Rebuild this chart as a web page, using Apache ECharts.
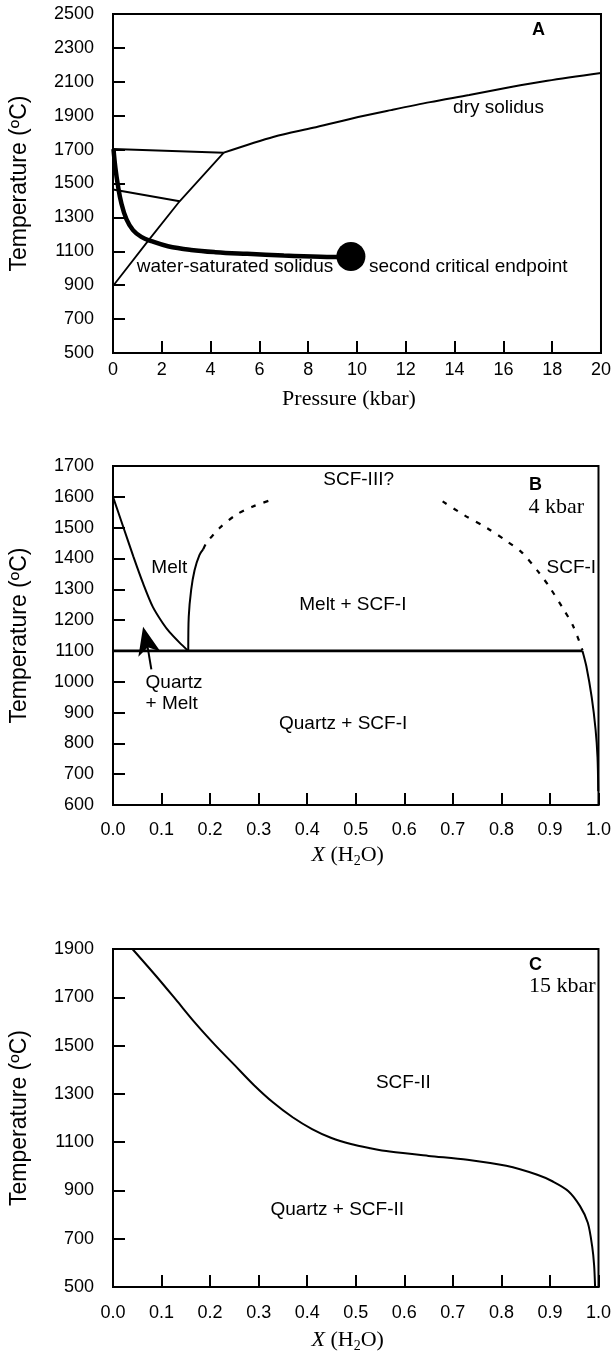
<!DOCTYPE html>
<html>
<head>
<meta charset="utf-8">
<script src="https://cdn.jsdelivr.net/npm/echarts@6/dist/echarts.min.js"></script>
<style>
  html, body { margin: 0; padding: 0; background: #fff; }
  #chart { width: 614px; height: 1360px; }
</style>
</head>
<body>
<div id="chart"></div>
<script>
// ---- panel A: pressure (kbar) vs temperature
const xTicksA = [0, 2, 4, 6, 8, 10, 12, 14, 16, 18, 20];
const yTicksA = [500, 700, 900, 1100, 1300, 1500, 1700, 1900, 2100, 2300, 2500];
const drySolidus = [[4.54, 1682], [6.6, 1776], [8.2, 1829], [9.8, 1884], [11.4, 1933], [13.0, 1980], [14.6, 2022], [16.2, 2066], [17.8, 2106], [20, 2152]];
const upperTie = [[0, 1704], [4.54, 1682]];
const lowerTie = [[0, 1464], [2.73, 1395]];
const diagonal = [[0, 895], [1.43, 1160], [2.73, 1395], [4.54, 1682]];
const wetSolidus = [[0.02, 1703], [0.1, 1590], [0.2, 1490], [0.34, 1385], [0.55, 1290], [0.82, 1225], [1.16, 1185], [1.57, 1160], [2.25, 1130], [3.2, 1108], [4.2, 1095], [5.5, 1085], [7, 1075], [8.5, 1068], [9.75, 1066]];
const endpoint = [[9.75, 1070]];
const notesA = [
  [17.15, 2405, 'A', 'tag'],
  [15.8, 1945, 'dry solidus', 'note'],
  [5.0, 1009, 'water-saturated solidus', 'note'],
  [14.56, 1009, 'second critical endpoint', 'note']
];

// ---- panel B: 4 kbar
const xTicksBC = [0, 0.1, 0.2, 0.3, 0.4, 0.5, 0.6, 0.7, 0.8, 0.9, 1.0];
const yTicksB = [600, 700, 800, 900, 1000, 1100, 1200, 1300, 1400, 1500, 1600, 1700];
const liquidus = [[0, 1600], [0.021, 1503], [0.042, 1406], [0.062, 1319], [0.082, 1243], [0.103, 1189], [0.117, 1160], [0.137, 1127], [0.155, 1100]];
const meltLimb = [[0.155, 1100], [0.156, 1211], [0.161, 1298], [0.168, 1362], [0.178, 1411], [0.186, 1430]];
const meltLimbDash = [[0.186, 1430], [0.192, 1449], [0.219, 1498], [0.253, 1541], [0.287, 1568], [0.328, 1591]];
const fluidLimbDash = [[0.679, 1585], [0.723, 1541], [0.771, 1498], [0.812, 1455], [0.843, 1418], [0.877, 1355], [0.9, 1305], [0.928, 1235], [0.948, 1180], [0.967, 1102]];
const fluidLimb = [[0.967, 1100], [0.975, 1050], [0.986, 950], [0.994, 845], [0.998, 755], [0.9995, 645]];
const eutectic = [[0, 1100], [0.967, 1100]];
const arrowStem = [[0.079, 1040], [0.07, 1125]];
const arrowHead = [[0.062, 1178]];
const notesB = [
  [0.856, 1638, 'B', 'tag'],
  [0.855, 1567, '4 kbar', 'serif'],
  [0.506, 1655, 'SCF-III?', 'note'],
  [0.116, 1370, 'Melt', 'note'],
  [0.944, 1370, 'SCF-I', 'note'],
  [0.494, 1251, 'Melt + SCF-I', 'note'],
  [0.066, 961, 'Quartz\n+ Melt', 'left'],
  [0.474, 865, 'Quartz + SCF-I', 'note']
];

// ---- panel C: 15 kbar
const yTicksC = [500, 700, 900, 1100, 1300, 1500, 1700, 1900];
const scfSolvus = [[0.04, 1900], [0.09, 1785], [0.13, 1689], [0.17, 1592], [0.21, 1503], [0.25, 1420], [0.29, 1337], [0.33, 1264], [0.37, 1203], [0.41, 1154], [0.45, 1117], [0.49, 1092], [0.53, 1075], [0.57, 1061], [0.65, 1043], [0.73, 1027], [0.81, 1002], [0.874, 965], [0.906, 937], [0.938, 897], [0.962, 835], [0.978, 766], [0.987, 668], [0.991, 590], [0.993, 500]];
const notesC = [
  [0.856, 1834, 'C', 'tag'],
  [0.856, 1747, '15 kbar', 'serif'],
  [0.598, 1344, 'SCF-II', 'note'],
  [0.462, 820, 'Quartz + SCF-II', 'note']
];

const SANS = '"Liberation Sans", Arial, Helvetica, sans-serif';
const SERIF = '"Liberation Serif", "Times New Roman", serif';
const INK = '#000';

const chart = echarts.init(document.getElementById('chart'), null, { renderer: 'canvas' });

function yAxis(gridIndex, min, max, ticks) {
  return {
    type: 'value', gridIndex, min, max,
    name: 'Temperature (ºC)', nameLocation: 'middle', nameGap: 82,
    nameTextStyle: { fontFamily: SANS, fontSize: 23, color: INK },
    axisLine: { show: true, onZero: false, lineStyle: { color: '#000', width: 2 } },
    axisTick: { show: true, inside: true, length: 12, lineStyle: { color: '#000', width: 2 }, customValues: ticks },
    axisLabel: { customValues: ticks, margin: 19, fontFamily: SANS, fontSize: 18, color: INK, formatter: v => String(v) },
    splitLine: { show: false }
  };
}

function xAxis(gridIndex, min, max, ticks, name, nameGap, labelMargin, fmt) {
  return {
    type: 'value', gridIndex, min, max, position: 'bottom',
    name, nameLocation: 'middle', nameGap,
    nameTextStyle: {
      fontFamily: SERIF, fontSize: 22, color: INK, padding: [0, 16, 0, 0],
      rich: {
        i: { fontFamily: SERIF, fontSize: 22, fontStyle: 'italic', color: INK },
        n: { fontFamily: SERIF, fontSize: 22, color: INK },
        s: { fontFamily: SERIF, fontSize: 14, color: INK, padding: [12, 0, 0, 0] }
      }
    },
    axisLine: { show: true, onZero: false, lineStyle: { color: '#000', width: 2 } },
    axisTick: { show: true, inside: true, length: 12, lineStyle: { color: '#000', width: 2 }, customValues: ticks },
    axisLabel: { customValues: ticks, margin: labelMargin, fontFamily: SANS, fontSize: 18, color: INK, formatter: fmt },
    splitLine: { show: false }
  };
}

function curve(idx, data, width, opts) {
  return Object.assign({
    type: 'line', xAxisIndex: idx, yAxisIndex: idx, data,
    showSymbol: false, symbol: 'none', silent: true,
    lineStyle: { color: '#000', width }
  }, opts || {});
}

const noteStyles = {
  note: { position: 'inside', fontFamily: SANS, fontSize: 19 },
  left: { position: 'right', distance: 0, align: 'left', fontFamily: SANS, fontSize: 19, lineHeight: 21 },
  tag: { position: 'right', distance: 0, align: 'left', fontFamily: SANS, fontSize: 18, fontWeight: 'bold' },
  serif: { position: 'right', distance: 0, align: 'left', fontFamily: SERIF, fontSize: 22 }
};

function notes(idx, rows) {
  return {
    type: 'scatter', xAxisIndex: idx, yAxisIndex: idx, silent: true, z: 10,
    symbolSize: 1, itemStyle: { color: 'rgba(0,0,0,0)', opacity: 1 },
    data: rows.map(r => ({
      value: [r[0], r[1]],
      label: Object.assign({
        show: true, formatter: r[2], color: INK, opacity: 1,
        textBorderWidth: 0, textShadowBlur: 0
      }, noteStyles[r[3]])
    }))
  };
}

const oneDec = v => v.toFixed(1);
const gridBox = { show: true, borderColor: '#000', borderWidth: 2, backgroundColor: 'transparent' };

chart.setOption({
  animation: false,
  backgroundColor: '#fff',
  grid: [
    Object.assign({ left: 113, top: 14, width: 489, height: 339 }, gridBox),
    Object.assign({ left: 113, top: 466, width: 489, height: 339 }, gridBox),
    Object.assign({ left: 113, top: 949, width: 489, height: 338 }, gridBox)
  ],
  xAxis: [
    xAxis(0, 0, 20, xTicksA, 'Pressure (kbar)', 35, 8, v => String(v)),
    xAxis(1, 0, 1, xTicksBC, '{i|X} {n|(H}{s|2}{n|O)}', 37, 16, oneDec),
    xAxis(2, 0, 1, xTicksBC, '{i|X} {n|(H}{s|2}{n|O)}', 40, 17, oneDec)
  ],
  yAxis: [
    yAxis(0, 500, 2500, yTicksA),
    yAxis(1, 600, 1700, yTicksB),
    yAxis(2, 500, 1900, yTicksC)
  ],
  series: [
    // A
    curve(0, drySolidus, 2, { smooth: 0.3 }),
    curve(0, upperTie, 2),
    curve(0, lowerTie, 2),
    curve(0, diagonal, 1.8),
    curve(0, wetSolidus, 4.5, { smooth: 0.4 }),
    {
      type: 'scatter', xAxisIndex: 0, yAxisIndex: 0, silent: true, data: endpoint,
      symbol: 'circle', symbolSize: 29, itemStyle: { color: '#000', opacity: 1 }
    },
    notes(0, notesA),
    // B
    curve(1, liquidus, 2, { smooth: 0.3 }),
    curve(1, meltLimb, 2, { smooth: 0.3 }),
    curve(1, meltLimbDash, 2.2, { smooth: 0.3, lineStyle: { color: '#000', width: 2.2, type: [5, 8] } }),
    curve(1, fluidLimbDash, 2.2, { smooth: 0.3, lineStyle: { color: '#000', width: 2.2, type: [5, 8] } }),
    curve(1, fluidLimb, 2, { smooth: 0.3 }),
    curve(1, eutectic, 2.6),
    curve(1, arrowStem, 2),
    {
      type: 'scatter', xAxisIndex: 1, yAxisIndex: 1, silent: true, data: arrowHead,
      symbol: 'arrow', symbolSize: [17, 28], symbolRotate: 13, itemStyle: { color: '#000', opacity: 1 }
    },
    notes(1, notesB),
    // C
    curve(2, scfSolvus, 2, { smooth: 0.3 }),
    notes(2, notesC)
  ]
});
window.addEventListener('resize', () => chart.resize());
</script>
</body>
</html>
